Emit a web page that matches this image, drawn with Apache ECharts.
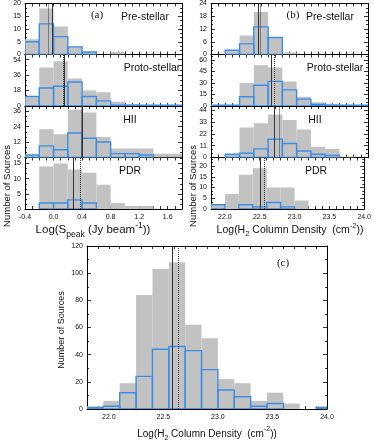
<!DOCTYPE html>
<html><head><meta charset="utf-8">
<script src="https://cdn.jsdelivr.net/npm/echarts@6/dist/echarts.min.js"></script>
<style>html,body{margin:0;padding:0;background:#fff}#c{width:374px;height:442px}</style>
</head><body><div id="c"></div>
<script>
// ---------- data ----------
const classes = ['Pre-stellar', 'Proto-stellar', 'HII', 'PDR'];
// (a) Log(S_peak) bins
const aEdges = [-0.4, -0.2, 0.0, 0.2, 0.4, 0.6, 0.8, 1.0, 1.2, 1.4, 1.6, 1.8];
const aPreAll    = [6, 18, 11, 3, 1, 0, 1, 0, 0, 0, 0];
const aPreBlue   = [5, 12, 7, 3, 1, 0, 0, 0, 0, 0, 0];
const aProtoAll  = [11, 45, 52, 32, 18, 16, 5, 2, 1, 1, 1];
const aProtoBlue = [11, 21, 23, 28, 11, 6, 1, 1, 1, 1, 1];
const aHIIAll    = [2, 22, 18, 37, 35, 16, 7, 7, 7, 3, 3];
const aHIIBlue   = [2, 9, 6, 19, 15, 12, 3, 3, 2, 0, 0];
const aPDRAll    = [0, 14, 15, 13, 12, 8, 2, 1, 1, 0, 0];
const aPDRBlue   = [0, 2, 2, 3, 2, 0, 0, 0, 0, 0, 0];
const aSolid  = [-0.02, 0.15, 0.40, 0.27];
const aDotted = [-0.08, 0.13, 0.39, 0.37];
const aYMax  = [20, 60, 40, 17];
const aYStep = [5, 18, 12, 5];
// (b) Log(H2 column density) bins
const bEdges = [21.8, 22.0, 22.2, 22.4, 22.6, 22.8, 23.0, 23.2, 23.4, 23.6, 23.8, 24.0];
const bPreAll    = [0, 2, 9, 20, 8, 1, 0, 0, 0, 0, 0];
const bPreBlue   = [0, 2, 5, 13, 8, 0, 0, 0, 0, 0, 0];
const bProtoAll  = [1, 1, 30, 53, 50, 32, 12, 5, 3, 1, 1];
const bProtoBlue = [1, 1, 12, 27, 32, 21, 9, 2, 1, 1, 1];
const bHIIAll    = [0, 3, 28, 32, 40, 35, 26, 10, 8, 1, 0];
const bHIIBlue   = [0, 3, 4, 8, 17, 13, 6, 3, 2, 0, 0];
const bPDRAll    = [2, 7, 16, 19, 10, 10, 4, 0, 0, 0, 0];
const bPDRBlue   = [2, 0, 2, 1, 3, 1, 0, 0, 0, 0, 0];
const bSolid  = [22.46, 22.65, 22.69, 22.51];
const bDotted = [22.49, 22.69, 22.75, 22.57];
const bYMax  = [24, 67, 48, 24];
const bYStep = [6, 15, 11, 5];
// (c) all sources
const cEdges = [21.8, 21.95, 22.1, 22.25, 22.4, 22.55, 22.7, 22.85, 23.0, 23.15, 23.3, 23.45, 23.6, 23.75, 23.9, 24.05];
const cAll  = [2, 6, 19, 84, 103, 108, 62, 52, 22, 19, 6, 12, 4, 0, 2];
const cBlue = [1, 2, 12, 24, 44, 46, 43, 29, 14, 9, 2, 4, 0, 0, 1];
const cSolid = 22.58, cDotted = 22.64;
const cYMax = 120, cYStep = 20;

// ---------- build ----------
const FONT = 'Liberation Sans';
const GRAY = '#c2c2c2', BLUE = '#3a8ee8', VLINE = '#333';
const grids = [], xAxes = [], yAxes = [], series = [];

function fmtX(step) {
  return function (v) {
    const r = v / step;
    if (Math.abs(r - Math.round(r)) > 1e-6) return '';
    if (Math.abs(v) < 1e-9) v = 0;
    return v.toFixed(1);
  };
}
function fmtY(step) {
  return function (v) {
    const r = v / step;
    return Math.abs(r - Math.round(r)) < 1e-6 ? String(Math.round(v)) : '';
  };
}
function hist(edges, values, xi, yi, kind, lines) {
  const data = values.map((v, i) => [edges[i], edges[i + 1], v]);
  const s = {
    type: 'custom', xAxisIndex: xi, yAxisIndex: yi, clip: true, silent: true,
    data: data, encode: { x: [0, 1], y: 2 }, z: kind === 'fill' ? 2 : 3,
    renderItem: function (params, api) {
      const v = api.value(2);
      if (!v) return null;
      const p0 = api.coord([api.value(0), 0]);
      const p1 = api.coord([api.value(1), v]);
      const shape = { x: p0[0], y: p1[1], width: p1[0] - p0[0], height: p0[1] - p1[1] };
      if (kind === 'fill') return { type: 'rect', shape: shape, style: { fill: GRAY } };
      return { type: 'rect', shape: shape, style: { fill: 'none', stroke: BLUE, lineWidth: 1.4 } };
    }
  };
  if (lines) {
    s.markLine = {
      silent: true, symbol: ['none', 'none'], animation: false, label: { show: false },
      data: [
        { xAxis: lines[0], lineStyle: { type: 'solid', color: VLINE, width: 1 } },
        { xAxis: lines[1], lineStyle: { type: 'dotted', color: VLINE, width: 1 } }
      ]
    };
  }
  return s;
}
function panel(rect, xmin, xmax, labelStep, showXLabels, ymax, ystep, minorSplit, edges, all, blue, lines) {
  const g = grids.length;
  grids.push({ left: rect[0], top: rect[1], width: rect[2], height: rect[3], containLabel: false });
  const axisLine = { show: true, onZero: false, lineStyle: { color: '#000', width: 1 } };
  const tick = { show: true, inside: true, length: 3, lineStyle: { color: '#000', width: 0.8 } };
  const xi = xAxes.length;
  const xBase = { type: 'value', gridIndex: g, min: xmin, max: xmax, interval: 0.1, axisLine: axisLine, axisTick: tick, splitLine: { show: false } };
  xAxes.push(Object.assign({}, xBase, { position: 'bottom',
    axisLabel: { show: showXLabels, formatter: fmtX(labelStep), fontFamily: FONT, fontSize: 7, color: '#111', margin: 5, showMinLabel: true, showMaxLabel: true } }));
  xAxes.push(Object.assign({}, xBase, { position: 'top', axisLabel: { show: false } }));
  const yi = yAxes.length;
  const yBase = { type: 'value', gridIndex: g, min: 0, max: ymax, interval: ystep, axisLine: axisLine,
    axisTick: Object.assign({}, tick, { length: 4 }),
    minorTick: { show: true, splitNumber: minorSplit, length: 2, lineStyle: { color: '#000', width: 0.8 } },
    splitLine: { show: false }, minorSplitLine: { show: false } };
  yAxes.push(Object.assign({}, yBase, { position: 'left',
    axisLabel: { formatter: fmtY(ystep), fontFamily: FONT, fontSize: 7, color: '#111', margin: 4, showMaxLabel: true } }));
  yAxes.push(Object.assign({}, yBase, { position: 'right', axisLabel: { show: false } }));
  series.push(hist(edges, all, xi, yi, 'fill', null));
  series.push(hist(edges, blue, xi, yi, 'line', lines));
}

const panelTop = [3, 54.5, 106, 157.5], panelH = 51.5;
const aAll = [aPreAll, aProtoAll, aHIIAll, aPDRAll], aBl = [aPreBlue, aProtoBlue, aHIIBlue, aPDRBlue];
const bAll = [bPreAll, bProtoAll, bHIIAll, bPDRAll], bBl = [bPreBlue, bProtoBlue, bHIIBlue, bPDRBlue];
for (let i = 0; i < 4; i++) {
  panel([25, panelTop[i], 157, panelH], -0.4, 1.8, 0.4, i === 3, aYMax[i], aYStep[i], 3,
    aEdges, aAll[i], aBl[i], [aSolid[i], aDotted[i]]);
}
for (let i = 0; i < 4; i++) {
  panel([211, panelTop[i], 157, panelH], 21.8, 24.0, 0.5, i === 3, bYMax[i], bYStep[i], 3,
    bEdges, bAll[i], bBl[i], [bSolid[i], bDotted[i]]);
}
panel([87, 246, 240, 163], 21.8, 24.0, 0.5, true, cYMax, cYStep, 2, cEdges, cAll, cBlue, [cSolid, cDotted]);

// ---------- texts ----------
function txt(text, x, y, size, extra) {
  extra = extra || {};
  return {
    type: 'text', x: x, y: y, rotation: extra.rot || 0, silent: true, z: 10,
    style: {
      text: text, fontFamily: extra.serif ? 'Liberation Serif' : FONT, fontSize: size, fill: '#111',
      align: extra.align || 'center', verticalAlign: 'middle', rich: extra.rich
    }
  };
}
function richSet(main, small) {
  return {
    m: { fontSize: main, fontFamily: FONT, fill: '#111', lineHeight: main + 6, verticalAlign: 'middle' },
    s: { fontSize: small, fontFamily: FONT, fill: '#111', lineHeight: small + 1, verticalAlign: 'bottom' },
    p: { fontSize: small, fontFamily: FONT, fill: '#111', lineHeight: small + 1, verticalAlign: 'top' }
  };
}
const graphics = [];
const aLabelPos = [[145, 17], [152, 68], [130, 120], [130, 171]];
const bLabelPos = [[330, 17], [335, 68], [315, 120], [316, 171]];
for (let i = 0; i < 4; i++) {
  graphics.push(txt(classes[i], aLabelPos[i][0], aLabelPos[i][1], 10.5));
  graphics.push(txt(classes[i], bLabelPos[i][0], bLabelPos[i][1], 10.5));
}
graphics.push(txt('(a)', 97, 15, 11, { serif: true }));
graphics.push(txt('(b)', 293, 15, 11, { serif: true }));
graphics.push(txt('(c)', 283, 263, 11, { serif: true }));
graphics.push(txt('Number of Sources', 7, 186, 9.5, { rot: Math.PI / 2 }));
graphics.push(txt('Number of Sources', 193, 186, 9.5, { rot: Math.PI / 2 }));
graphics.push(txt('Number of Sources', 62, 330, 9, { rot: Math.PI / 2 }));
graphics.push(txt('{m|Log(S}{s|peak}{m| (Jy beam}{p|-1}{m|))}', 93, 230, 11.5, { rich: richSet(11.5, 8.5) }));
graphics.push(txt('{m|Log(H}{s|2}{m| Column Density  (cm}{p|-2}{m|))}', 290, 230, 10.5, { rich: richSet(10.5, 7.5) }));
graphics.push(txt('{m|Log(H}{s|2}{m| Column Density  (cm}{p|-2}{m|))}', 207, 434, 10, { rich: richSet(10, 7) }));

const chart = echarts.init(document.getElementById('c'));
chart.setOption({
  animation: false,
  backgroundColor: '#fff',
  grid: grids, xAxis: xAxes, yAxis: yAxes, series: series, graphic: graphics
});
</script>
</body></html>
